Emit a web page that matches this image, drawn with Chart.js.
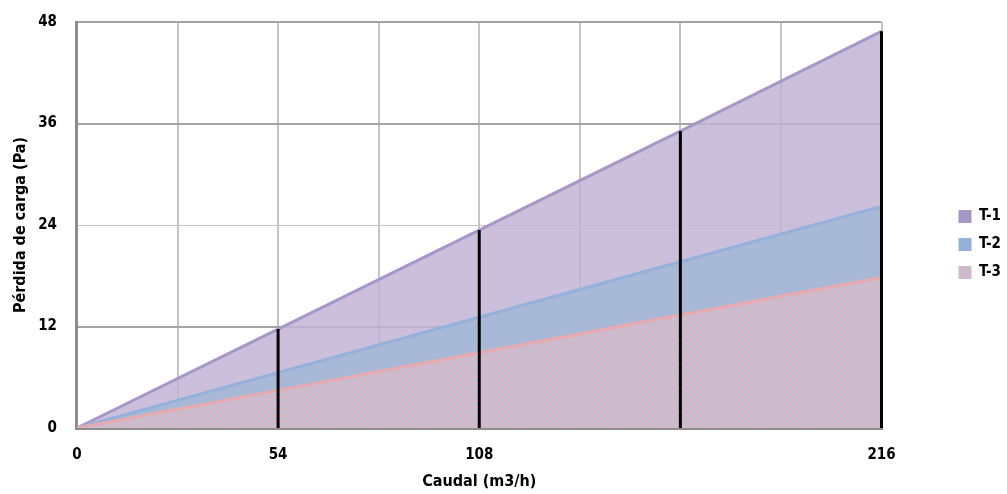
<!DOCTYPE html>
<html><head><meta charset="utf-8">
<script src="https://cdn.jsdelivr.net/npm/chart.js@4/dist/chart.umd.min.js"></script>
<style>html,body{margin:0;padding:0;background:#fff}#wrap{width:1007px;height:494px;position:relative}</style>
</head><body><div id="wrap"><canvas id="c" width="1007" height="494"></canvas></div>
<script>
const caudal = [0, 54, 108, 162, 216];
const t1 = [0, 11.7, 23.4, 35.1, 46.9];
const t2 = [0, 6.55, 13.1, 19.65, 26.2];
const t3 = [0, 4.45, 8.9, 13.35, 17.8];
const seriesNames = ['T-1', 'T-2', 'T-3'];
const xGridTicks = [0, 27, 54, 81, 108, 135, 162, 189, 216];
const xTickLabels = [0, 54, 108, 216];
const yTicks = [0, 12, 24, 36, 48];
const xTitle = 'Caudal (m3/h)';
const yTitle = 'Pérdida de carga (Pa)';

const FONT = "'DejaVu Sans Condensed','Liberation Sans Narrow',sans-serif";
Chart.defaults.font.family = FONT;
Chart.defaults.font.weight = 'bold';
Chart.defaults.font.size = 15;
Chart.defaults.color = '#000';

function checker() {
  const p = document.createElement('canvas');
  p.width = 6; p.height = 6;
  const g = p.getContext('2d');
  g.fillStyle = '#e8b0b4'; g.fillRect(0, 0, 6, 6);
  g.fillStyle = '#b2c6e4'; g.fillRect(0, 0, 3, 3); g.fillRect(3, 3, 3, 3);
  return g.createPattern(p, 'repeat');
}
const ctx = document.getElementById('c').getContext('2d');
const pat = checker();

const pts = arr => caudal.map((x, i) => ({x: x, y: arr[i]}));

const dropLines = {
  id: 'dropLines',
  afterDatasetsDraw(chart) {
    const meta = chart.getDatasetMeta(0);
    const y0 = chart.scales.y.getPixelForValue(0);
    const c = chart.ctx;
    c.save();
    c.strokeStyle = '#000'; c.lineWidth = 3;
    meta.data.forEach((pt, i) => {
      if (caudal[i] === 0) return;
      c.beginPath(); c.moveTo(pt.x, y0); c.lineTo(pt.x, pt.y); c.stroke();
    });
    c.restore();
  }
};
const LEGEND_GAP = 60;
const LEGEND_SHIFT = 64;
const LEGEND_LIFT = 13;
const legendShift = {
  id: 'legendShift',
  afterInit(chart) {
    const lg = chart.legend;
    const fit = lg.fit;
    lg.fit = function () { fit.call(this); this.width += LEGEND_GAP; };
    const draw = lg.draw;
    lg.draw = function () {
      this.left += LEGEND_SHIFT; this.top -= LEGEND_LIFT; this.bottom -= LEGEND_LIFT;
      draw.call(this);
      this.left -= LEGEND_SHIFT; this.top += LEGEND_LIFT; this.bottom += LEGEND_LIFT;
    };
  }
};

new Chart(ctx, {
  type: 'line',
  data: {
    datasets: [
      {label: seriesNames[0], data: pts(t1), order: 3, fill: 'origin',
       backgroundColor: 'rgba(194,180,213,0.85)', borderColor: '#a797c9', borderWidth: 3},
      {label: seriesNames[1], data: pts(t2), order: 2, fill: 'origin',
       backgroundColor: 'rgba(162,183,215,0.85)', borderColor: '#93b1da', borderWidth: 3},
      {label: seriesNames[2], data: pts(t3), order: 1, fill: 'origin',
       backgroundColor: pat, borderColor: '#e8aaae', borderWidth: 3}
    ]
  },
  options: {
    responsive: false,
    animation: false,
    elements: {point: {radius: 0, hoverRadius: 0}, line: {tension: 0}},
    layout: {padding: {left: 11, top: 22, right: 0, bottom: 1}},
    scales: {
      x: {
        type: 'linear', min: 0, max: 216,
        afterBuildTicks: s => { s.ticks = xGridTicks.map(v => ({value: v})); },
        ticks: {
          padding: 20, maxRotation: 0, autoSkip: false, font: {lineHeight: 1},
          callback: v => xTickLabels.includes(v) ? String(v) : ''
        },
        grid: {color: '#c4c4c4', lineWidth: 2, drawTicks: false},
        border: {color: '#8c8c8c', width: 3},
        title: {display: true, text: xTitle, font: {size: 16, lineHeight: 1}, padding: {top: -9, bottom: 3}}
      },
      y: {
        min: 0, max: 48,
        afterBuildTicks: s => { s.ticks = yTicks.map(v => ({value: v})); },
        afterFit: s => { s.paddingTop = 0; s.paddingBottom = 0; },
        ticks: {padding: 20},
        grid: {
          color: c => c.tick && c.tick.value === 24 ? '#c6c6c6' : '#a4a4a4',
          lineWidth: c => c.tick && c.tick.value === 24 ? 1 : 2,
          drawTicks: false
        },
        border: {color: '#8c8c8c', width: 3},
        title: {display: true, text: yTitle, font: {size: 16}, padding: {top: 0, bottom: -12}}
      }
    },
    plugins: {
      tooltip: {enabled: false},
      legend: {
        position: 'right',
        sort: (a, b) => a.datasetIndex - b.datasetIndex,
        labels: {boxWidth: 13, boxHeight: 13, padding: 13,
          generateLabels: chart => chart.data.datasets.map((d, i) => ({
            text: d.label, fillStyle: i === 2 ? pat : d.borderColor,
            strokeStyle: 'rgba(0,0,0,0)', lineWidth: 0, datasetIndex: i, hidden: false
          }))
        }
      }
    }
  },
  plugins: [dropLines, legendShift]
});
</script>
</body></html>
